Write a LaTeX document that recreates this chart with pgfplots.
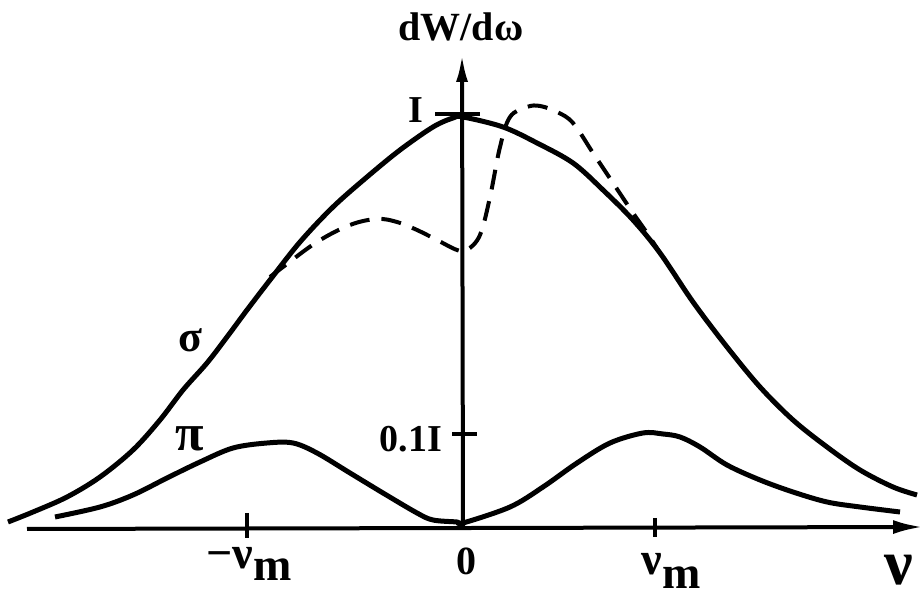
\documentclass[border=0pt]{standalone}
\usepackage{pgfplots}
\pgfplotsset{compat=1.18}
\usepackage{fontspec}
\setmainfont{Liberation Serif}
\usetikzlibrary{arrows.meta}

\begin{document}
\begin{tikzpicture}
\begin{axis}[
  scale only axis, width=462pt, height=298.5pt,
  xmin=-463, xmax=461, ymin=-69, ymax=528,
  hide axis, clip=false,
]
% frequency and intensity axes
\draw[line width=2pt, -{Latex[length=15pt,width=7pt]}] (axis cs:-436,-1) -- (axis cs:460,1);
\draw[line width=2pt, -{Latex[length=14pt,width=6pt]}] (axis cs:0,0) -- (axis cs:-1,474);
% tick marks
\draw[line width=2pt] (axis cs:-28,414) -- (axis cs:17,414);
\draw[line width=2pt] (axis cs:-11,94) -- (axis cs:14,94);
\draw[line width=2pt] (axis cs:-216,15) -- (axis cs:-216,-10);
\draw[line width=2pt] (axis cs:192,10) -- (axis cs:192,-9);

% sigma component
\addplot[black, line width=2.5pt, smooth, tension=0.55] coordinates {
 (-455,6) (-430,16) (-396,31) (-363,51) (-330,78) (-303,108) (-280,138)
 (-256,165) (-236,191) (-216,218) (-193,248) (-163,286) (-130,321) (-96,351)
 (-63,378) (-30,401) (-10,410) (0,411) (40,401) (74,385) (110,365)
 (140,338) (170,308) (197,275) (230,226) (264,181) (297,141) (330,108)
 (364,81) (397,58) (430,41) (454,33)
};
% perturbed sigma component
\addplot[black, line width=2pt, smooth, tension=0.6, dash pattern=on 10pt off 6pt] coordinates {
 (-193,251) (-180,261) (-146,286) (-113,303) (-86,309) (-66,306) (-46,298)
 (-26,288) (-6,278) (4,278) (17,293) (27,331) (37,381) (47,411) (64,421)
 (77,422) (94,416) (110,405) (130,375) (150,345) (170,315) (184,295) (197,275)
};
% pi component
\addplot[black, line width=2.5pt, smooth, tension=0.55] coordinates {
 (-408,11) (-363,21) (-330,33) (-296,50) (-263,66) (-230,80) (-196,85)
 (-170,85) (-146,75) (-113,55) (-80,35) (-46,15) (-30,8) (-6,6) (0,5)
 (47,21) (80,41) (114,65) (147,85) (180,95) (200,94) (217,91) (237,81)
 (264,63) (297,48) (330,36) (364,26) (397,21) (437,16)
};

% labels
\node[inner sep=0] at (axis cs:-2,501) {\fontsize{20}{24}\selectfont\bfseries dW/dω};
\node[inner sep=0] at (axis cs:-47,418) {\fontsize{19}{23}\selectfont\bfseries I};
\node[inner sep=0] at (axis cs:-52,89) {\fontsize{19}{23}\selectfont\bfseries 0.1I};
\node[inner sep=0] at (axis cs:3,-33) {\fontsize{20}{24}\selectfont\bfseries 0};
\node[inner sep=0, anchor=north] at (axis cs:-214,-19) {\fontsize{23}{26}\selectfont\bfseries −ν\raisebox{-6pt}{m}};
\node[inner sep=0, anchor=north] at (axis cs:208,-25) {\fontsize{23}{26}\selectfont\bfseries ν\raisebox{-7pt}{m}};
\node[inner sep=0] at (axis cs:436,-42) {\fontsize{32}{36}\selectfont\bfseries ν};
\node[inner sep=0] at (axis cs:-273,188) {\fontsize{22}{26}\selectfont\bfseries σ};
\node[inner sep=0] at (axis cs:-273,89) {\fontsize{26}{30}\selectfont\bfseries π};
\end{axis}
\pgfresetboundingbox
\path (current axis.south west) rectangle (current axis.north east);
\end{tikzpicture}
\end{document}
